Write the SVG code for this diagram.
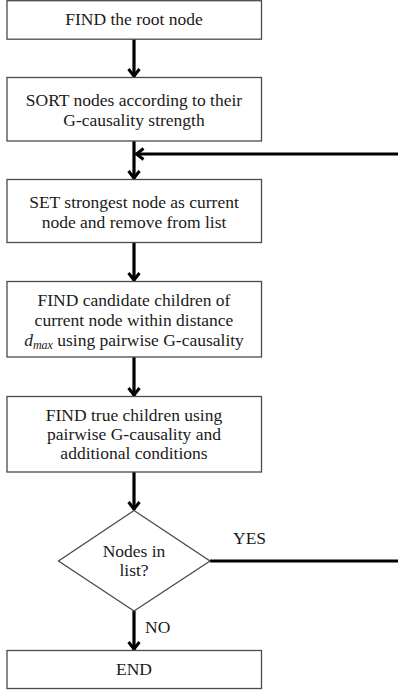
<svg xmlns="http://www.w3.org/2000/svg" width="398" height="691" viewBox="0 0 398 691" font-family="'Liberation Serif', 'DejaVu Serif', serif">
<style>
  .box { fill: #ffffff; stroke: #4a4a4a; stroke-width: 1.3; }
  text { font-family: 'Liberation Serif', 'DejaVu Serif', serif; font-size: 17.5px; fill: #1a1a1a; }
  .t { text-anchor: middle; }
  .edge { fill: none; stroke: #000000; stroke-width: 3.2; }
  .edge-plain { fill: none; stroke: #000000; stroke-width: 3; }
</style>
<defs>
  <marker id="arrow" markerUnits="userSpaceOnUse" viewBox="0 0 14 14" refX="12" refY="7" markerWidth="14" markerHeight="14" orient="auto">
    <path d="M4,1.5 L11,7 L4,12.5" fill="none" stroke="#000000" stroke-width="3" stroke-linejoin="miter"/>
  </marker>
</defs>
<rect width="398" height="691" fill="#ffffff"/>

<g id="connectors">
  <line class="edge" x1="134" y1="39" x2="134" y2="77" marker-end="url(#arrow)"/>
  <line class="edge" x1="134" y1="141" x2="134" y2="179" marker-end="url(#arrow)"/>
  <line class="edge" x1="398" y1="154" x2="135.5" y2="154" marker-end="url(#arrow)"/>
  <line class="edge" x1="134" y1="243" x2="134" y2="281" marker-end="url(#arrow)"/>
  <line class="edge" x1="134" y1="357" x2="134" y2="396" marker-end="url(#arrow)"/>
  <line class="edge" x1="134" y1="472" x2="134" y2="510" marker-end="url(#arrow)"/>
  <line class="edge" x1="134" y1="611" x2="134" y2="650" marker-end="url(#arrow)"/>
  <line class="edge-plain" x1="210" y1="561" x2="398" y2="561"/>
  <text x="233" y="544">YES</text>
  <text x="145" y="633">NO</text>
</g>

<g id="find-root">
  <rect class="box" x="7" y="0.7" width="254.5" height="38.5"/>
  <text class="t" x="134" y="24.5">FIND the root node</text>
</g>

<g id="sort-nodes">
  <rect class="box" x="7" y="77.5" width="254.5" height="63.5"/>
  <text class="t" x="134" y="106">SORT nodes according to their</text>
  <text class="t" x="134" y="126">G-causality strength</text>
</g>

<g id="set-strongest">
  <rect class="box" x="7" y="179.5" width="254.5" height="63"/>
  <text class="t" x="134" y="207.5">SET strongest node as current</text>
  <text class="t" x="134" y="227.5">node and remove from list</text>
</g>

<g id="find-candidates">
  <rect class="box" x="7" y="281.5" width="254.5" height="75.5"/>
  <text class="t" x="134" y="306">FIND candidate children of</text>
  <text class="t" x="134" y="326">current node within distance</text>
  <text class="t" x="134" y="345.5"><tspan font-style="italic">d</tspan><tspan font-style="italic" font-size="12px" dy="3">max</tspan><tspan dy="-3"> using pairwise G-causality</tspan></text>
</g>

<g id="find-true">
  <rect class="box" x="7" y="396.5" width="254.5" height="75.5"/>
  <text class="t" x="134" y="420.5">FIND true children using</text>
  <text class="t" x="134" y="439.5">pairwise G-causality and</text>
  <text class="t" x="134" y="458.5">additional conditions</text>
</g>

<g id="nodes-in-list">
  <polygon class="box" points="134,510.5 210,561 134,611 58.5,561"/>
  <text class="t" x="134" y="556.5">Nodes in</text>
  <text class="t" x="134" y="576">list?</text>
</g>

<g id="end">
  <rect class="box" x="7" y="650.5" width="254.5" height="38"/>
  <text class="t" x="134" y="674.5">END</text>
</g>
</svg>
